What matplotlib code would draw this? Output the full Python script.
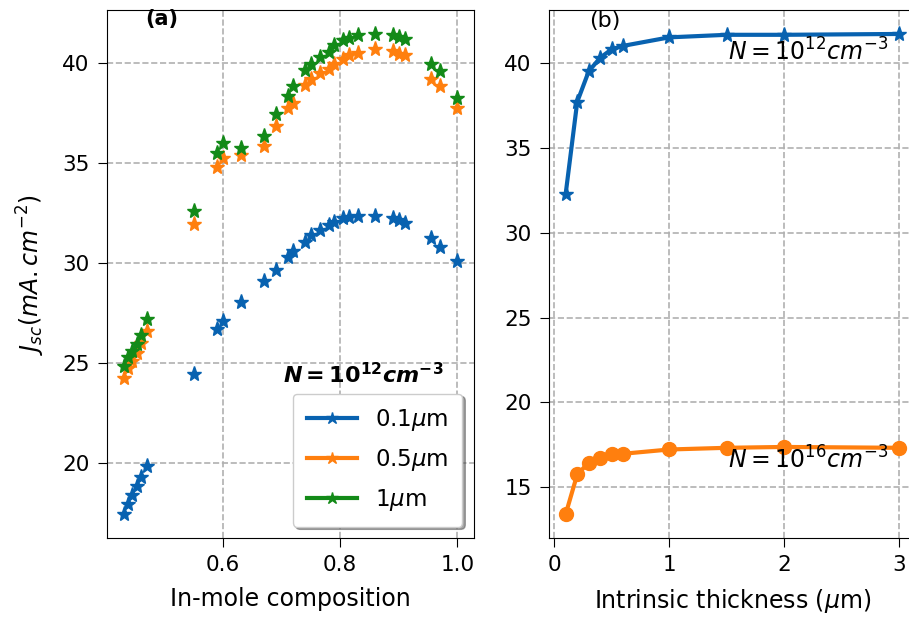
import matplotlib.pyplot as plt
from matplotlib.lines import Line2D

# (a) Jsc vs In-mole composition
comp = [0.43, 0.438, 0.445, 0.452, 0.46, 0.47, 0.55, 0.59, 0.60, 0.63, 0.67, 0.69,
        0.71, 0.72, 0.74, 0.75, 0.765, 0.78, 0.79, 0.805, 0.815, 0.83, 0.86, 0.89,
        0.90, 0.91, 0.955, 0.97, 1.0]
jsc_01 = [17.45, 17.95, 18.4, 18.85, 19.3, 19.85, 24.45, 26.7, 27.1, 28.05, 29.1, 29.65,
          30.27, 30.57, 31.06, 31.4, 31.65, 31.9, 32.05, 32.25, 32.3, 32.35, 32.35, 32.25,
          32.15, 32.0, 31.26, 30.8, 30.07]
jsc_05 = [24.25, 24.75, 25.1, 25.5, 26.0, 26.6, 31.95, 34.8, 35.25, 35.36, 35.85, 36.84,
          37.73, 37.98, 38.9, 39.16, 39.46, 39.7, 39.95, 40.2, 40.4, 40.49, 40.69, 40.59,
          40.44, 40.4, 39.16, 38.81, 37.73]
jsc_1 = [24.85, 25.3, 25.6, 25.95, 26.4, 27.2, 32.6, 35.5, 36.0, 35.75, 36.35, 37.43,
         38.32, 38.81, 39.65, 39.95, 40.3, 40.54, 40.89, 41.14, 41.23, 41.38, 41.43, 41.38,
         41.28, 41.19, 39.95, 39.56, 38.22]
labels_a = ['0.1$\\mu$m', '0.5$\\mu$m', '1$\\mu$m']

# (b) Jsc vs intrinsic thickness
thick = [0.1, 0.2, 0.3, 0.4, 0.5, 0.6, 1.0, 1.5, 2.0, 3.0]
jsc_n12 = [32.3, 37.7, 39.5, 40.3, 40.8, 41.0, 41.5, 41.65, 41.65, 41.7]
jsc_n16 = [13.43, 15.76, 16.45, 16.74, 16.98, 16.98, 17.23, 17.33, 17.38, 17.33]

blue = '#0862b0'
orange = '#ff7f0e'
green = '#138a18'

plt.rcParams['font.size'] = 15.5
plt.rcParams['xtick.major.size'] = 6.5
plt.rcParams['ytick.major.size'] = 6.5
plt.rcParams['xtick.major.pad'] = 6
plt.rcParams['ytick.major.pad'] = 6

fig = plt.figure(figsize=(9.09, 6.22), dpi=100)
ax1 = fig.add_axes([0.1177, 0.135, 0.4037, 0.849])
ax2 = fig.add_axes([0.604, 0.135, 0.4037, 0.849])

for y, c in zip([jsc_01, jsc_05, jsc_1], [blue, orange, green]):
    ax1.plot(comp, y, '*', color=c, markersize=11)
ax1.grid(True, linestyle='--', color='#b0b0b0', linewidth=1.2)
ax1.set_xticks([0.6, 0.8, 1.0])
ax1.set_yticks([20, 25, 30, 35, 40])
ax1.set_xlabel('In-mole composition', fontsize=17, labelpad=8)
ax1.set_ylabel('$J_{sc}(mA.cm^{-2})$', fontsize=17, labelpad=11)
ax1.text(0.15, 0.982, '(a)', transform=ax1.transAxes, ha='center', va='center',
         fontweight='bold', fontsize=15)
ax1.text(0.84, 24.4,
         '$\\boldsymbol{N}\\mathbf{=10}^{\\mathbf{12}}\\boldsymbol{cm}^{\\mathbf{-3}}$',
         ha='center', va='center', fontsize=16)
handles = [Line2D([], [], color=c, lw=3, marker='*', markersize=9)
           for c in [blue, orange, green]]
ax1.legend(handles, labels_a, loc='lower right', shadow=True, fontsize=16.5,
           handlelength=2.2, borderpad=0.6, labelspacing=0.6)

ax2.plot(thick, jsc_n12, '-*', color=blue, lw=3, markersize=11)
ax2.plot(thick, jsc_n16, '-o', color=orange, lw=3, markersize=10)
ax2.grid(True, linestyle='--', color='#b0b0b0', linewidth=1.2)
ax2.set_xticks([0, 1, 2, 3])
ax2.set_yticks([15, 20, 25, 30, 35, 40])
ax2.set_xlabel('Intrinsic thickness ($\\mu$m)', fontsize=17, labelpad=8)
ax2.text(0.153, 0.979, '(b)', transform=ax2.transAxes, ha='center', va='center',
         fontsize=16)
ax2.text(2.21, 40.65, '$N=10^{12}cm^{-3}$', ha='center', va='center', fontsize=17)
ax2.text(2.21, 16.63, '$N=10^{16}cm^{-3}$', ha='center', va='center', fontsize=17)

fig.savefig('out.png', dpi=100)
